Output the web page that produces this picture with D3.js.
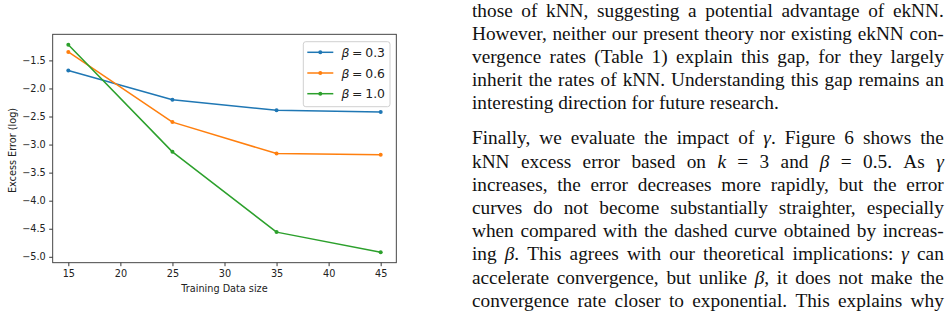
<!DOCTYPE html>
<html><head><meta charset="utf-8">
<script src="https://cdn.jsdelivr.net/npm/d3@7"></script>
<style>html,body{margin:0;padding:0;background:#fff;} svg{display:block;}</style>
</head><body>
<svg id="c" width="949" height="323"></svg>
<script>
// ---- data ----
const sizes = [15, 25, 35, 45];
const beta03 = [-1.68, -2.20, -2.39, -2.42];
const beta06 = [-1.35, -2.60, -3.16, -3.18];
const beta10 = [-1.22, -3.13, -4.56, -4.92];
const seriesBetas = ["0.3", "0.6", "1.0"];
const seriesColors = ["#1f77b4", "#ff7f0e", "#2ca02c"];
const xTicks = [15, 20, 25, 30, 35, 40, 45];
const yTicks = [-5.0, -4.5, -4.0, -3.5, -3.0, -2.5, -2.0, -1.5];
const xLabel = "Training Data size";
const yLabel = "Excess Error (log)";
const para1 = [
  "those of kNN, suggesting a potential advantage of ekNN.",
  "However, neither our present theory nor existing ekNN con-",
  "vergence rates (Table 1) explain this gap, for they largely",
  "inherit the rates of kNN. Understanding this gap remains an",
  "interesting direction for future research."
];
const para2 = [
  "Finally, we evaluate the impact of {γ}. Figure 6 shows the",
  "kNN excess error based on {k} = 3 and {β} = 0.5. As {γ}",
  "increases, the error decreases more rapidly, but the error",
  "curves do not become substantially straighter, especially",
  "when compared with the dashed curve obtained by increas-",
  "ing {β}. This agrees with our theoretical implications: {γ} can",
  "accelerate convergence, but unlike {β}, it does not make the",
  "convergence rate closer to exponential. This explains why"
];

const series = [beta03, beta06, beta10];
const svg = d3.select("#c");

// ---- chart ----
const P = {left: 52.7, right: 396.3, top: 34.3, bottom: 262.7};
const xExt = d3.extent(sizes), xPad = 0.05 * (xExt[1] - xExt[0]);
const allY = [].concat(...series);
const yExt = d3.extent(allY), yPad = 0.05 * (yExt[1] - yExt[0]);
const x = d3.scaleLinear().domain([xExt[0] - xPad, xExt[1] + xPad]).range([P.left, P.right]);
const y = d3.scaleLinear().domain([yExt[0] - yPad, yExt[1] + yPad]).range([P.bottom, P.top]);
const tickFont = 9.7;
const ink = "#222";

const gx = svg.append("g").attr("transform", `translate(0,${P.bottom})`)
  .call(d3.axisBottom(x).tickValues(xTicks).tickSize(3.5).tickPadding(3.5).tickFormat(d3.format("d")));
const gy = svg.append("g").attr("transform", `translate(${P.left},0)`)
  .call(d3.axisLeft(y).tickValues(yTicks).tickSize(3.5).tickPadding(3.5).tickFormat(d3.format(".1f")));
[gx, gy].forEach(g => {
  g.select(".domain").remove();
  g.selectAll(".tick line").attr("stroke", ink).attr("stroke-width", 0.9);
  g.selectAll(".tick text").attr("fill", ink).style("font-family", "DejaVu Sans").style("font-size", tickFont + "px");
});

const line = d3.line().x((d, i) => x(sizes[i])).y(d => y(d));
series.forEach((s, k) => {
  svg.append("path").datum(s).attr("d", line).attr("fill", "none")
    .attr("stroke", seriesColors[k]).attr("stroke-width", 1.5).attr("stroke-linejoin", "round");
  svg.append("g").selectAll("circle").data(s).join("circle")
    .attr("cx", (d, i) => x(sizes[i])).attr("cy", d => y(d)).attr("r", 2)
    .attr("fill", seriesColors[k]);
});

// spines
svg.append("rect").attr("x", P.left).attr("y", P.top)
  .attr("width", P.right - P.left).attr("height", P.bottom - P.top)
  .attr("fill", "none").attr("stroke", "#333").attr("stroke-width", 0.9);

// axis labels
svg.append("text").attr("x", (P.left + P.right) / 2).attr("y", 291.5)
  .attr("text-anchor", "middle").attr("fill", ink)
  .style("font-family", "DejaVu Sans").style("font-size", tickFont + "px").text(xLabel);
svg.append("text").attr("transform", `translate(16,${(P.top + P.bottom) / 2 + 2}) rotate(-90)`)
  .attr("text-anchor", "middle").attr("fill", ink)
  .style("font-family", "DejaVu Sans").style("font-size", tickFont + "px").text(yLabel);

// legend
const L = {x: 303.3, y: 41.7, w: 86.7, h: 65, row: 20.7, fs: 12.4};
const lg = svg.append("g");
lg.append("rect").attr("x", L.x).attr("y", L.y).attr("width", L.w).attr("height", L.h)
  .attr("rx", 2.5).attr("fill", "#fff").attr("fill-opacity", 0.8)
  .attr("stroke", "#d0d0d0").attr("stroke-width", 1);
seriesBetas.forEach((b, k) => {
  const cy = L.y + 10.6 + k * L.row;
  lg.append("line").attr("x1", L.x + 4).attr("x2", L.x + 30).attr("y1", cy).attr("y2", cy)
    .attr("stroke", seriesColors[k]).attr("stroke-width", 1.5);
  lg.append("circle").attr("cx", L.x + 17).attr("cy", cy).attr("r", 2).attr("fill", seriesColors[k]);
  const t = lg.append("text").attr("y", cy + 4.5).attr("fill", ink)
    .style("font-family", "DejaVu Sans").style("font-size", L.fs + "px");
  t.append("tspan").attr("x", L.x + 38.2).style("font-style", "italic").text("β");
  t.append("tspan").attr("x", L.x + 48.6).text("=");
  t.append("tspan").attr("x", L.x + 62.0).text(b);
});

// ---- body text ----
const TX = {left: 472, right: 943.8, fs: 19.3, lh: 23.2};
const tg = svg.append("g").style("font-family", "Liberation Serif").style("font-size", TX.fs + "px").attr("fill", "#111");
function renderLine(str, baseline, justify) {
  const words = str.split(" ");
  const nodes = words.map(w => {
    const t = tg.append("text").attr("y", baseline);
    w.split(/(\{[^}]*\})/).filter(s => s.length).forEach(seg => {
      if (seg[0] === "{") t.append("tspan").style("font-style", "italic").text(seg.slice(1, -1));
      else t.append("tspan").text(seg);
    });
    return t;
  });
  const widths = nodes.map(n => n.node().getComputedTextLength());
  const total = d3.sum(widths);
  const gap = justify && nodes.length > 1 ? (TX.right - TX.left - total) / (nodes.length - 1) : 0.25 * TX.fs;
  let cx = TX.left;
  nodes.forEach((n, i) => { n.attr("x", cx); cx += widths[i] + gap; });
}
const p1Base = 16.6;
para1.forEach((l, i) => renderLine(l, p1Base + i * TX.lh, i < para1.length - 1));
const p2Base = 144.4;
para2.forEach((l, i) => renderLine(l, p2Base + i * TX.lh, true));
</script>
</body></html>
